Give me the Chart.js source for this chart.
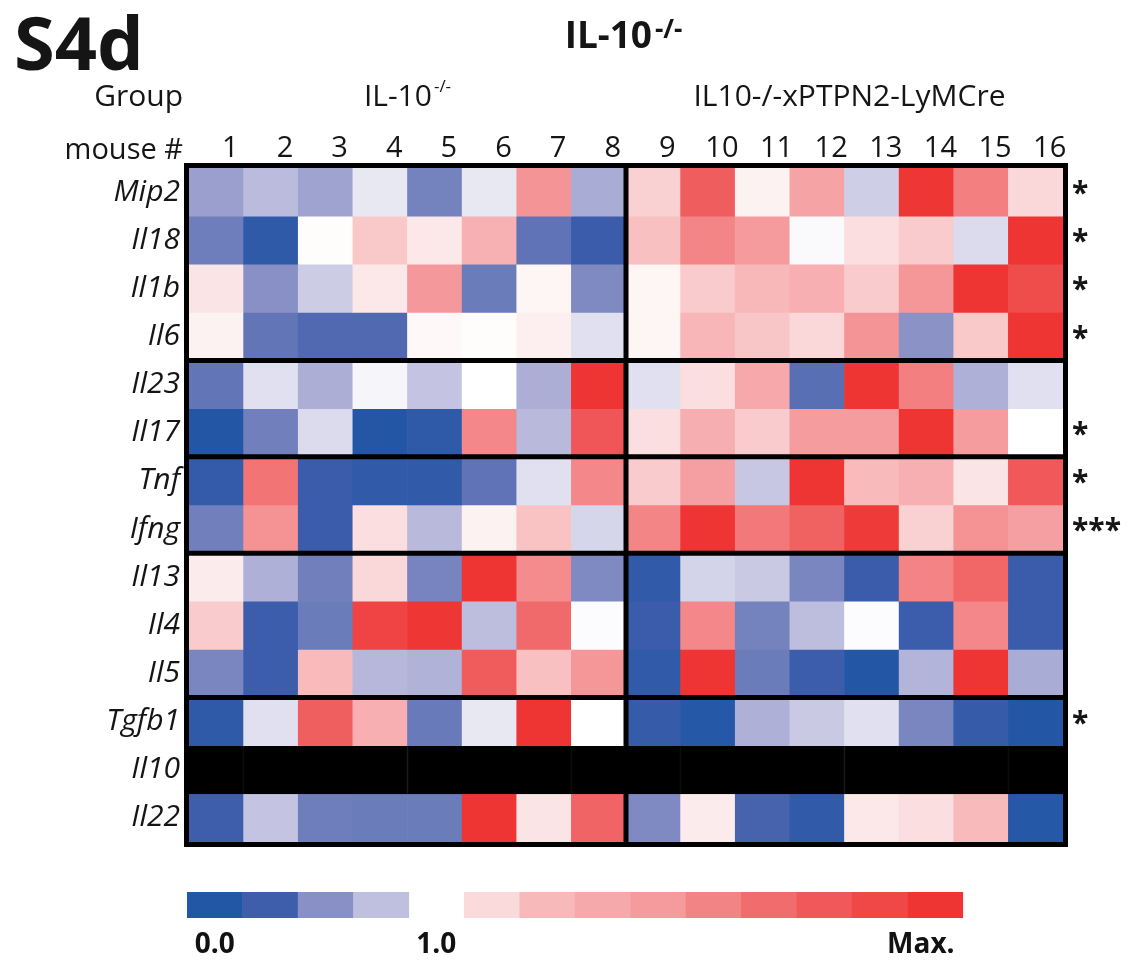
<!DOCTYPE html>
<html>
<head>
<meta charset="utf-8">
<script src="https://cdn.jsdelivr.net/npm/chart.js@4.4.1/dist/chart.umd.min.js"></script>
<style>
  html, body { margin: 0; background: #fff; }
  #wrap { position: relative; width: 1140px; height: 961px; }
</style>
</head>
<body>
<div id="wrap"><canvas id="heat"></canvas></div>
<script>
// mouse numbers (columns) and genes (rows)
const mice = ['1','2','3','4','5','6','7','8','9','10','11','12','13','14','15','16'];
const genes = ['Mip2','Il18','Il1b','Il6','Il23','Il17','Tnf','Ifng','Il13','Il4','Il5','Tgfb1','Il10','Il22'];

// relative expression, -1 = 0.0 (deep blue), 0 = 1.0 (white), 1 = Max. (red)
const mip2  = [-0.42,-0.27,-0.40,-0.09,-0.57,-0.09, 0.48,-0.35, 0.14, 0.75, 0.04, 0.38,-0.19, 0.99, 0.58, 0.12];
const il18  = [-0.59,-0.89, 0.01, 0.17, 0.07, 0.28,-0.64,-0.79, 0.20, 0.55, 0.45,-0.02, 0.10, 0.16,-0.14, 1.00];
const il1b  = [ 0.08,-0.50,-0.20, 0.07, 0.46,-0.60, 0.03,-0.53, 0.03, 0.16, 0.23, 0.29, 0.16, 0.47, 1.00, 0.86];
const il6   = [ 0.04,-0.63,-0.69,-0.69, 0.02, 0.01, 0.05,-0.12, 0.03, 0.24, 0.18, 0.12, 0.48,-0.49, 0.17, 1.00];
const il23  = [-0.63,-0.12,-0.34,-0.04,-0.23, 0.00,-0.34, 1.00,-0.12, 0.10, 0.34,-0.66, 1.00, 0.58,-0.33,-0.12];
const il17  = [-0.99,-0.58,-0.14,-0.99,-0.89, 0.54,-0.28, 0.79, 0.10, 0.30, 0.16, 0.44, 0.44, 1.00, 0.44, 0.00];
const tnf   = [-0.85, 0.63,-0.79,-0.87,-0.87,-0.64,-0.12, 0.54, 0.16, 0.41,-0.22, 1.00, 0.22, 0.29, 0.08, 0.78];
const ifng  = [-0.58, 0.49,-0.79, 0.10,-0.28, 0.04, 0.19,-0.16, 0.55, 1.00, 0.61, 0.73, 0.97, 0.14, 0.49, 0.41];
const il13  = [ 0.06,-0.33,-0.58, 0.12,-0.56, 1.00, 0.52,-0.53,-0.87,-0.17,-0.21,-0.55,-0.79, 0.56, 0.70,-0.78];
const il4   = [ 0.16,-0.77,-0.60, 0.91, 0.99,-0.26, 0.68,-0.01,-0.78, 0.54,-0.57,-0.26,-0.01,-0.77, 0.54,-0.78];
const il5   = [-0.55,-0.77, 0.22,-0.29,-0.32, 0.76, 0.20, 0.47,-0.87, 1.00,-0.60,-0.77,-0.99,-0.31, 1.00,-0.35];
const tgfb1 = [-0.89,-0.12, 0.74, 0.29,-0.61,-0.09, 1.00, 0.00,-0.83,-0.97,-0.33,-0.21,-0.12,-0.55,-0.83,-0.99];
const il10  = [null,null,null,null,null,null,null,null,null,null,null,null,null,null,null,null]; // not detected
const il22  = [-0.75,-0.23,-0.59,-0.60,-0.60, 1.00, 0.08, 0.71,-0.53, 0.06,-0.72,-0.87, 0.07, 0.10, 0.22,-0.97];
const values = [mip2, il18, il1b, il6, il23, il17, tnf, ifng, il13, il4, il5, tgfb1, il10, il22];

const stars = ['*','*','*','*','','*','*','***','','','','*','',''];
const groupSplit = 8;          // first 8 mice are IL-10-/-
const rowBreaks = [4, 6, 8, 11];

// colour key
const blueKey = ['#2257a6','#3e5dab','#8990c5','#bfbfdf'];
const redKey = ['#fadadb','#f8b9ba','#f6a9ab','#f59b9e','#f38485','#f16c6d','#f05859','#ef4847','#ee3533'];
const keyLabels = ['0.0','1.0','Max.'];

const FONT = '"Open Sans", sans-serif';

function rgb(h) { return [1,3,5].map(i => parseInt(h.slice(i, i + 2), 16)); }
function cellColor(v) {
  if (v === null) return '#000000';
  const stops = v < 0 ? [...blueKey, '#ffffff'] : ['#ffffff', ...redKey];
  const t = v < 0 ? (v + 1) * 4 : v * 9;
  const i = Math.min(Math.floor(t), stops.length - 2);
  const f = t - i;
  const a = rgb(stops[i]), b = rgb(stops[i + 1]);
  const c = a.map((x, k) => Math.round(x + (b[k] - x) * f));
  return `rgb(${c[0]},${c[1]},${c[2]})`;
}

const datasets = genes.map((g, r) => ({
  label: g,
  data: values[r].map(() => [r, r + 1]),
  backgroundColor: values[r].map(cellColor),
  borderColor: values[r].map(cellColor),
  borderWidth: values[r].map(v => v === null ? 1 : 0),
  borderSkipped: false,
  barPercentage: 1,
  categoryPercentage: 1,
  grouped: false
}));

const decor = {
  id: 'decor',
  afterDatasetsDraw(chart) {
    const { ctx, chartArea: a, scales: { x, y } } = chart;
    ctx.save();
    ctx.strokeStyle = '#000';
    ctx.lineWidth = 5;
    ctx.strokeRect(a.left - 2.5, a.top - 2.5, a.width + 5, a.height + 5);
    const xs = (x.getPixelForValue(groupSplit - 1) + x.getPixelForValue(groupSplit)) / 2;
    ctx.beginPath();
    ctx.moveTo(xs, a.top); ctx.lineTo(xs, a.bottom);
    rowBreaks.forEach(b => {
      const yy = y.getPixelForValue(b);
      ctx.moveTo(a.left, yy); ctx.lineTo(a.right, yy);
    });
    ctx.stroke();
    ctx.restore();
  },
  afterDraw(chart) {
    const { ctx, chartArea: a, scales: { x, y } } = chart;
    const xs = (x.getPixelForValue(groupSplit - 1) + x.getPixelForValue(groupSplit)) / 2;
    ctx.save();
    ctx.fillStyle = '#151515';
    ctx.textBaseline = 'alphabetic';

    // panel letter and title
    ctx.font = `bold 74px ${FONT}`;
    ctx.textAlign = 'left';
    ctx.fillText('S4d', 14, 70);
    ctx.font = `bold 37px ${FONT}`;
    ctx.textAlign = 'right';
    ctx.fillText('IL-10', 652, 48);
    ctx.font = `bold 26px ${FONT}`;
    ctx.textAlign = 'left';
    ctx.fillText('-/-', 655, 38);

    // header rows
    ctx.font = `30px ${FONT}`;
    ctx.textAlign = 'right';
    ctx.fillText('Group', 183, 106);
    ctx.font = `29px ${FONT}`;
    ctx.fillText('mouse #', 183, 159);

    ctx.font = `30px ${FONT}`;
    const w1 = ctx.measureText('IL-10').width;
    ctx.font = `17px ${FONT}`;
    const w2 = ctx.measureText('-/-').width;
    const gx = (a.left + xs) / 2 - (w1 + w2 + 2) / 2;
    ctx.textAlign = 'left';
    ctx.font = `30px ${FONT}`;
    ctx.fillText('IL-10', gx, 106);
    ctx.font = `17px ${FONT}`;
    ctx.fillText('-/-', gx + w1 + 2, 92);
    ctx.font = `30px ${FONT}`;
    ctx.textAlign = 'center';
    ctx.fillText('IL10-/-xPTPN2-LyMCre', (xs + a.right) / 2 + 5, 106);

    // significance stars
    ctx.font = `bold 30px ${FONT}`;
    ctx.textAlign = 'left';
    stars.forEach((s, r) => {
      if (s) ctx.fillText(s, a.right + 9, y.getPixelForValue(r + 0.5) + 11);
    });

    // colour key
    const kx = 187, ky = 892, kw = 55.4, kh = 26;
    blueKey.forEach((c, i) => { ctx.fillStyle = c; ctx.fillRect(kx + i * kw, ky, kw + 0.5, kh); });
    redKey.forEach((c, i) => { ctx.fillStyle = c; ctx.fillRect(kx + (i + 5) * kw, ky, kw + 0.5, kh); });
    ctx.fillStyle = '#111';
    ctx.font = `bold 28px ${FONT}`;
    ctx.textAlign = 'center';
    ctx.fillText(keyLabels[0], kx + kw / 2, 953);
    ctx.fillText(keyLabels[1], kx + 4.5 * kw, 953);
    ctx.textAlign = 'right';
    ctx.fillText(keyLabels[2], kx + 14 * kw - 8, 953);
    ctx.restore();
  }
};

new Chart(document.getElementById('heat'), {
  type: 'bar',
  data: { labels: mice, datasets },
  options: {
    responsive: true,
    maintainAspectRatio: false,
    animation: false,
    layout: { padding: { left: 0, top: 0, right: 77, bottom: 119 } },
    plugins: { legend: { display: false }, tooltip: { enabled: false }, title: { display: false } },
    scales: {
      x: {
        type: 'category',
        position: 'top',
        grid: { display: false, drawTicks: false },
        border: { display: false },
        ticks: {
          color: '#151515',
          font: { family: FONT, size: 29 },
          padding: 2,
          labelOffset: 14,
          maxRotation: 0,
          autoSkip: false
        },
        afterFit(s) { s.height = 168; }
      },
      y: {
        type: 'linear',
        reverse: true,
        min: 0,
        max: genes.length,
        grid: { display: false, drawTicks: false },
        border: { display: false },
        afterBuildTicks(s) { s.ticks = genes.map((g, i) => ({ value: i + 0.5 })); },
        ticks: {
          color: '#151515',
          font: { family: FONT, size: 30, style: 'italic' },
          padding: 9,
          callback: v => genes[Math.floor(v)]
        },
        afterFit(s) { s.width = 189; }
      }
    }
  },
  plugins: [decor]
});
</script>
</body>
</html>
